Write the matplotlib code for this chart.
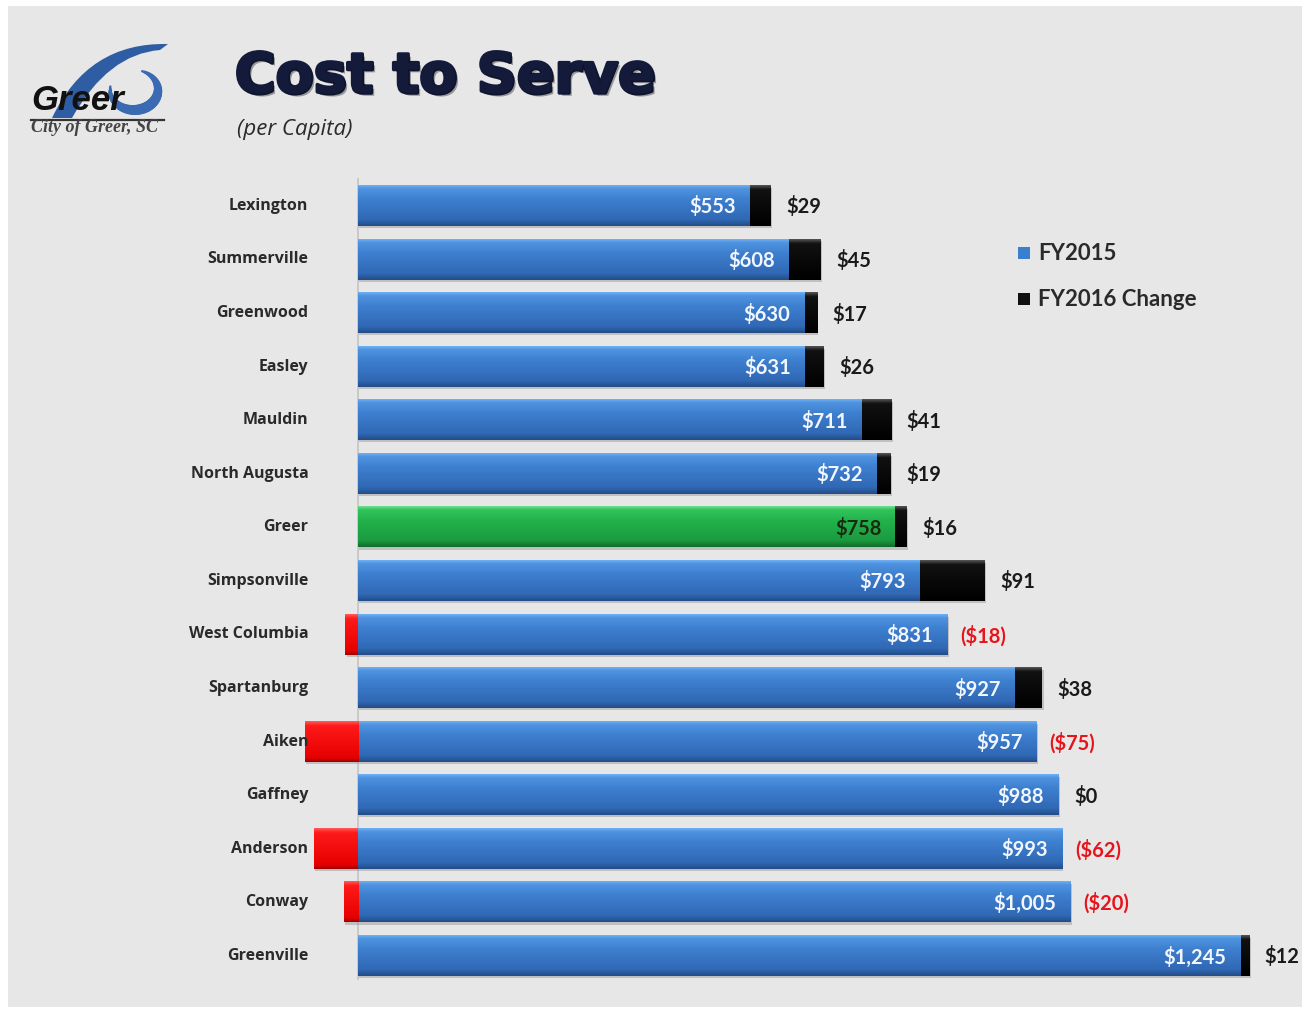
"""Cost to Serve (per capita) horizontal stacked bars with FY2016 change."""

import matplotlib

matplotlib.use("Agg")
import matplotlib.pyplot as plt
import numpy as np
from matplotlib import patheffects
from matplotlib.colors import LinearSegmentedColormap
from matplotlib.patches import PathPatch, Rectangle
from matplotlib.path import Path

cities = [
    "Lexington", "Summerville", "Greenwood", "Easley", "Mauldin",
    "North Augusta", "Greer", "Simpsonville", "West Columbia", "Spartanburg",
    "Aiken", "Gaffney", "Anderson", "Conway", "Greenville",
]
fy2015 = [553, 608, 630, 631, 711, 732, 758, 793, 831, 927, 957, 988, 993, 1005, 1245]
fy2016_change = [29, 45, 17, 26, 41, 19, 16, 91, -18, 38, -75, 0, -62, -20, 12]
highlight = "Greer"

W, H = 1309, 1010
fig = plt.figure(figsize=(W / 100, H / 100), dpi=100, facecolor="white")
fig.patches.append(Rectangle((8 / W, 3 / H), 1294 / W, 1001 / H, transform=fig.transFigure,
                             facecolor="#e7e7e7", edgecolor="none", zorder=-5))

blue_cm = LinearSegmentedColormap.from_list(
    "blue", [(0, "#6eb0f2"), (0.08, "#4f93e0"), (0.35, "#3d7fcf"), (0.85, "#3068b4"), (1, "#234d87")])
green_cm = LinearSegmentedColormap.from_list(
    "green", [(0, "#6fe08f"), (0.08, "#33c45e"), (0.35, "#22b24c"), (0.85, "#1b9a40"), (1, "#136b2c")])
black_cm = LinearSegmentedColormap.from_list(
    "black", [(0, "#555555"), (0.1, "#111111"), (1, "#000000")])
red_cm = LinearSegmentedColormap.from_list(
    "red", [(0, "#ff5a5a"), (0.1, "#ff1a1a"), (0.9, "#e60000"), (1, "#a00000")])

ax = fig.add_axes([300 / W, 30 / H, 1000 / W, 802 / H])
ax.set_facecolor("none")
xmin, xmax = -81.8, 1328.6
ymin, ymax = 14.45, -0.52
grad = np.linspace(0, 1, 64).reshape(-1, 1)


def shaded_bar(left, width, y, cmap, height=0.75):
    """Horizontal bar filled with a vertical gradient and a soft drop shadow."""
    if width == 0:
        return
    x0, x1 = sorted((left, left + width))
    ax.add_patch(Rectangle((x0 + 2, y - height / 2 + 0.04), x1 - x0, height,
                           facecolor="#9a9a9a", edgecolor="none", alpha=0.5, zorder=1))
    ax.imshow(grad, cmap=cmap, aspect="auto", interpolation="bicubic",
              extent=(x0, x1, y + height / 2, y - height / 2), zorder=2)


y_pos = np.arange(len(cities))
for y, city, base, chg in zip(y_pos, cities, fy2015, fy2016_change):
    shaded_bar(0, base, y, green_cm if city == highlight else blue_cm)
    if chg > 0:
        shaded_bar(base, chg, y, black_cm)
    elif chg < 0:
        shaded_bar(0, chg, y, red_cm)

    ax.text(base - 20, y + 0.02, f"${base:,}", ha="right", va="center",
            fontsize=14.5, fontweight="bold", family="Lato", zorder=4,
            color="#1a2a10" if city == highlight else "#f2f6ff")
    if chg < 0:
        ax.text(base + 18, y + 0.02, f"(${-chg})", ha="left", va="center",
                fontsize=14.5, fontweight="bold", family="Lato", color="#e8141b", zorder=4)
    else:
        ax.text(base + chg + 22, y + 0.02, f"${chg}", ha="left", va="center",
                fontsize=14.5, fontweight="bold", family="Lato", color="#1a1a1a", zorder=4)
    ax.text(-70, y, city, ha="right", va="center", fontsize=11.5, fontweight="bold",
            family="Open Sans", color="#2a2a2a", zorder=5)

ax.axvline(0, color="#c4c4c4", lw=1.2, zorder=0.5)
ax.set_xlim(xmin, xmax)
ax.set_ylim(ymin, ymax)
ax.axis("off")

# legend
for ty, color, label in [(253, "#3d7fcf", "FY2015"), (299, "#111111", "FY2016 Change")]:
    fig.patches.append(Rectangle((1018 / W, 1 - (ty + 6) / H), 12 / W, 12 / H,
                                 transform=fig.transFigure, facecolor=color,
                                 edgecolor="none", zorder=3))
    fig.text(1038 / W, 1 - ty / H, label, ha="left", va="center", fontsize=16,
             fontweight="bold", family="Lato", color="#2a2a2a")

# title block
fig.text(235 / W, 1 - 78 / H, "Cost to Serve", ha="left", va="center", fontsize=40,
         fontweight="bold", family="DejaVu Sans", color="#141b3a",
         path_effects=[patheffects.withStroke(linewidth=2.5, foreground="#141b3a"),
                       patheffects.withSimplePatchShadow(offset=(2, -2), alpha=0.35)])
fig.text(237 / W, 1 - 130 / H, "(per Capita)", ha="left", va="center", fontsize=16,
         style="italic", family="Open Sans", color="#2a2a2a")

# city logo in pixel coordinates: blue swoosh, wordmark and rule
lax = fig.add_axes([0, 0, 1, 1], zorder=-1)
lax.set_xlim(0, W)
lax.set_ylim(H, 0)
lax.axis("off")
outer = Path([(52, 118), (88, 42), (168, 44), (160, 50), (108, 54), (72, 118), (52, 118)],
             [Path.MOVETO, Path.CURVE3, Path.CURVE3, Path.LINETO, Path.CURVE3, Path.CURVE3,
              Path.CLOSEPOLY])
lax.add_patch(PathPatch(outer, facecolor="#2f5da3", edgecolor="none"))
# the inner loop of the swoosh, drawn as a tapering elliptical stroke
t = np.linspace(np.radians(170), np.radians(430), 40)
cx, cy, rx, ry = 134, 90, 24, 20
for i in range(len(t) - 1):
    seg = t[i:i + 2]
    lax.plot(cx + rx * np.cos(seg), cy - ry * np.sin(seg), color="#3a6ab2",
             lw=1.5 + 6 * np.sin((i + 0.5) / (len(t) - 1) * np.pi), solid_capstyle="round")
lax.text(31, 101, "Greer", ha="left", va="center", fontsize=25, fontweight="bold",
         style="italic", family="Liberation Sans", color="#111111")
lax.plot([31, 164], [120, 120], color="#333333", lw=1.6)
lax.text(31, 127, "City of Greer, SC", ha="left", va="center", fontsize=13,
         style="italic", fontweight="bold", family="Liberation Serif", color="#444444")

fig.savefig("out.png", dpi=100, facecolor=fig.get_facecolor())
